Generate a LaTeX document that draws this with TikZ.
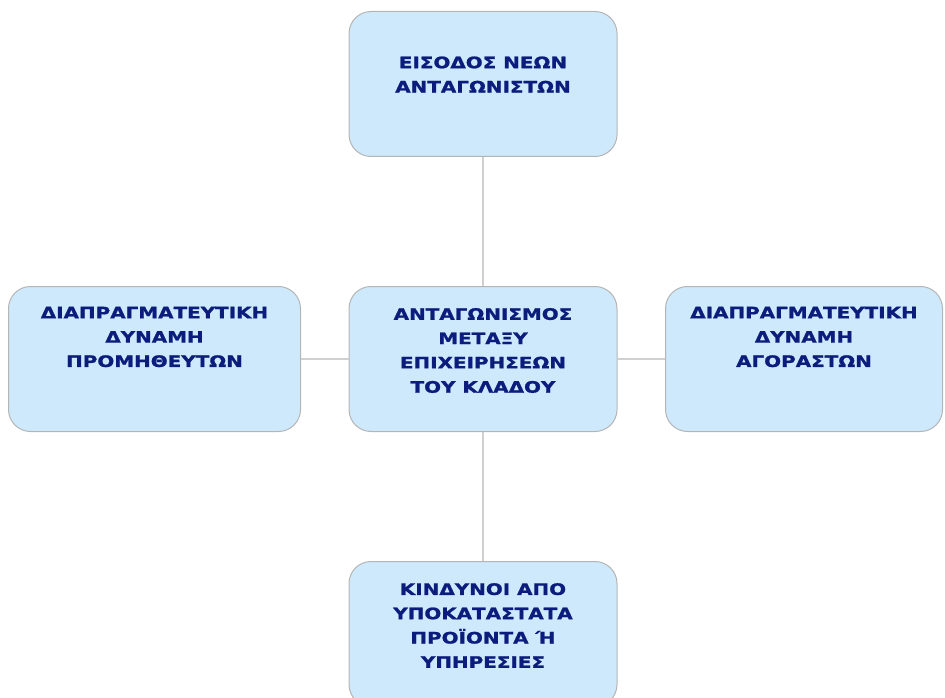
\documentclass[tikz,border=0pt]{standalone}
\usepackage{fontspec}
\usetikzlibrary{positioning}
\newfontfamily\boxfont{DejaVu Sans}[FakeStretch=1.26,FakeBold=1.2]
\definecolor{boxfill}{HTML}{CDE9FB}
\definecolor{boxline}{HTML}{B5B5B5}
\definecolor{boxtext}{HTML}{0C1C7C}
\definecolor{linkline}{HTML}{D0D0D0}

\begin{document}
\begin{tikzpicture}[
    x=1pt, y=-1pt,
    box/.style={
        draw=boxline,
        line width=1pt,
        rounded corners=22pt,
        fill=boxfill,
        inner sep=0pt,
        minimum width=268pt,
        minimum height=145pt
    },
    label text/.style={
        align=center,
        text=boxtext,
        inner sep=0pt,
        font=\boxfont\bfseries\fontsize{15.8}{24.3}\selectfont
    },
    edge/.style={draw=linkline, line width=1.5pt},
    node distance=129pt and 47.5pt
]
\useasboundingbox (0,0) rectangle (945,698);

\node[box] (rivalry) at (483,359) {};
\node[box, above=of rivalry] (entrants) {};
\node[box, below=of rivalry] (substitutes) {};
\node[box, left=of rivalry, minimum width=292pt] (suppliers) {};
\node[box, right=of rivalry, minimum width=277pt] (buyers) {};

\node[label text] (rivalry-t) at ([yshift=8.5pt]rivalry.center) {ΑΝΤΑΓΩΝΙΣΜΟΣ\\ΜΕΤΑΞΥ\\ΕΠΙΧΕΙΡΗΣΕΩΝ\\ΤΟΥ ΚΛΑΔΟΥ};
\node[label text] (entrants-t) at ([yshift=9.5pt]entrants.center) {ΕΙΣΟΔΟΣ ΝΕΩΝ\\ΑΝΤΑΓΩΝΙΣΤΩΝ};
\node[label text] (substitutes-t) at ([yshift=8.5pt]substitutes.center) {ΚΙΝΔΥΝΟΙ ΑΠΟ\\ΥΠΟΚΑΤΑΣΤΑΤΑ\\ΠΡΟΪΟΝΤΑ Ή\\ΥΠΗΡΕΣΙΕΣ};
\node[label text] (suppliers-t) at ([yshift=22pt]suppliers.center) {ΔΙΑΠΡΑΓΜΑΤΕΥΤΙΚΗ\\ΔΥΝΑΜΗ\\ΠΡΟΜΗΘΕΥΤΩΝ};
\node[label text] (buyers-t) at ([yshift=22pt]buyers.center) {ΔΙΑΠΡΑΓΜΑΤΕΥΤΙΚΗ\\ΔΥΝΑΜΗ\\ΑΓΟΡΑΣΤΩΝ};

\draw[edge] (entrants) -- (rivalry);
\draw[edge] (rivalry) -- (substitutes);
\draw[edge] (suppliers) -- (rivalry);
\draw[edge] (rivalry) -- (buyers);
\end{tikzpicture}
\end{document}
